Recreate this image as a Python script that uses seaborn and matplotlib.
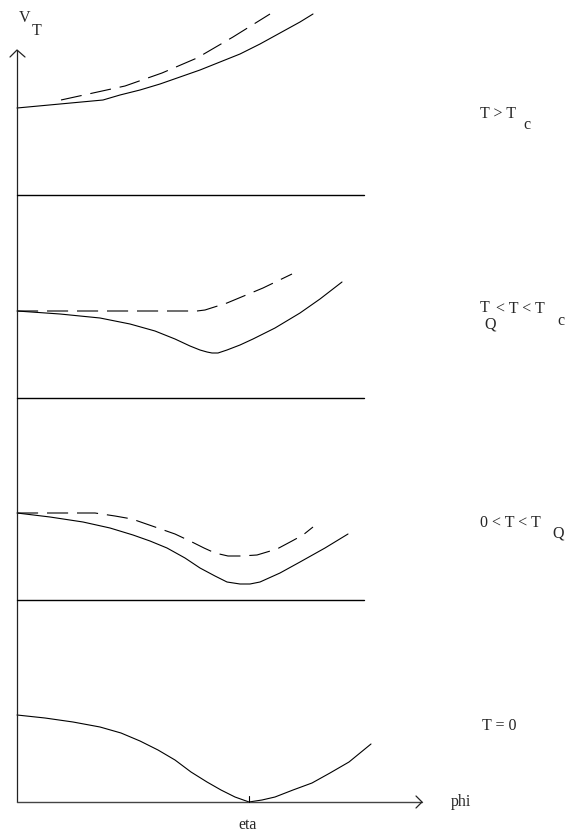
import numpy as np
import pandas as pd
import matplotlib
matplotlib.use("Agg")
import matplotlib.pyplot as plt
import seaborn as sns

# sketch coordinates (x to the right, y downwards, like the original drawing)
# panel 1: T > Tc
p1_solid_x = [17, 60, 103, 120, 140, 160, 180, 200, 220, 240, 260, 280, 300, 313]
p1_solid_y = [108, 104, 100, 95, 90, 84, 77, 70, 62, 54, 44, 33, 22, 14]
p1_dash_x = [61, 125, 162, 197, 233, 270]
p1_dash_y = [100, 86, 73, 58, 37, 14]

# panel 2: TQ < T < Tc
p2_solid_x = [17, 60, 100, 130, 155, 175, 190, 200, 207, 212, 218, 227, 240,
              253, 275, 300, 320, 342]
p2_solid_y = [311, 314, 318, 324, 331, 339, 346, 350, 352, 353, 353, 350, 345,
              339, 328, 313, 299, 282]
p2_dash_x = [17, 197, 205, 227, 263, 292]
p2_dash_y = [311, 311, 310, 303, 288, 274]

# panel 3: 0 < T < TQ
p3_solid_x = [17, 50, 83, 110, 133, 150, 167, 185, 200, 215, 227, 240, 250,
              260, 280, 300, 325, 348]
p3_solid_y = [513, 517, 522, 528, 535, 541, 548, 558, 568, 576, 582, 584, 584,
              582, 573, 562, 548, 534]
p3_dash_x = [17, 95, 115, 132, 155, 175, 192, 204, 215, 228, 241, 257, 277,
             292, 303, 313]
p3_dash_y = [513, 513, 516, 519, 527, 534, 542, 548, 553, 556, 556, 555, 549,
             541, 535, 527]

# panel 4: T = 0
p4_solid_x = [17, 45, 73, 100, 121, 140, 158, 175, 191, 207, 221, 235, 249,
              262, 275, 293, 312, 330, 349, 371]
p4_solid_y = [715, 718, 722, 727, 733, 741, 750, 760, 772, 782, 790, 797, 802,
              800, 797, 790, 783, 773, 762, 744]

separators_y = [195, 398, 600]
eta_x = 249

sns.set_style("white")
plt.rcParams['font.family'] = ['Liberation Serif', 'DejaVu Serif']

fig = plt.figure(figsize=(5.76, 8.34), dpi=100)
ax = fig.add_axes([0, 0, 1, 1])
ax.set_xlim(0, 576)
ax.set_ylim(834, 0)
ax.axis('off')

lw = 0.8
dash = (0, (19, 8))

curves = [
    (p1_solid_x, p1_solid_y, '-'), (p1_dash_x, p1_dash_y, dash),
    (p2_solid_x, p2_solid_y, '-'), (p2_dash_x, p2_dash_y, dash),
    (p3_solid_x, p3_solid_y, '-'), (p3_dash_x, p3_dash_y, dash),
    (p4_solid_x, p4_solid_y, '-'),
]
for cx, cy, ls in curves:
    df = pd.DataFrame({'phi': cx, 'V': cy})
    sns.lineplot(data=df, x='phi', y='V', sort=False, ax=ax,
                 color='black', lw=lw, linestyle=ls)

# axes with open arrow heads
ax.plot([17, 17], [802, 50], color='#222222', lw=0.9)
ax.plot([10, 17, 25], [57, 50, 57], color='#222222', lw=0.9)
ax.plot([17, 422], [802, 802], color='#444444', lw=1.0)
ax.plot([416, 422, 416], [796, 802, 808], color='#222222', lw=0.9)
ax.plot([eta_x, eta_x], [796, 802], color='black', lw=0.8)

for y in separators_y:
    ax.plot([17, 364], [y, y], color='black', lw=1.0)

fs = 11.5
def txt(x, y, s):
    ax.text(x, y, s, fontsize=fs, ha='left', va='baseline')

txt(19, 22, 'V')
txt(32, 35, 'T')
txt(480, 118, 'T > T')
txt(523, 129, 'c')
txt(480, 312, 'T')
txt(484, 328, 'Q')
txt(496, 313, '< T < T')
txt(557, 325, 'c')
txt(480, 527, '0 < T < T')
txt(552, 537, 'Q')
txt(482, 730, 'T = 0')
txt(451, 806, 'phi')
txt(238, 829, 'eta')

fig.savefig('out.png', dpi=100)
